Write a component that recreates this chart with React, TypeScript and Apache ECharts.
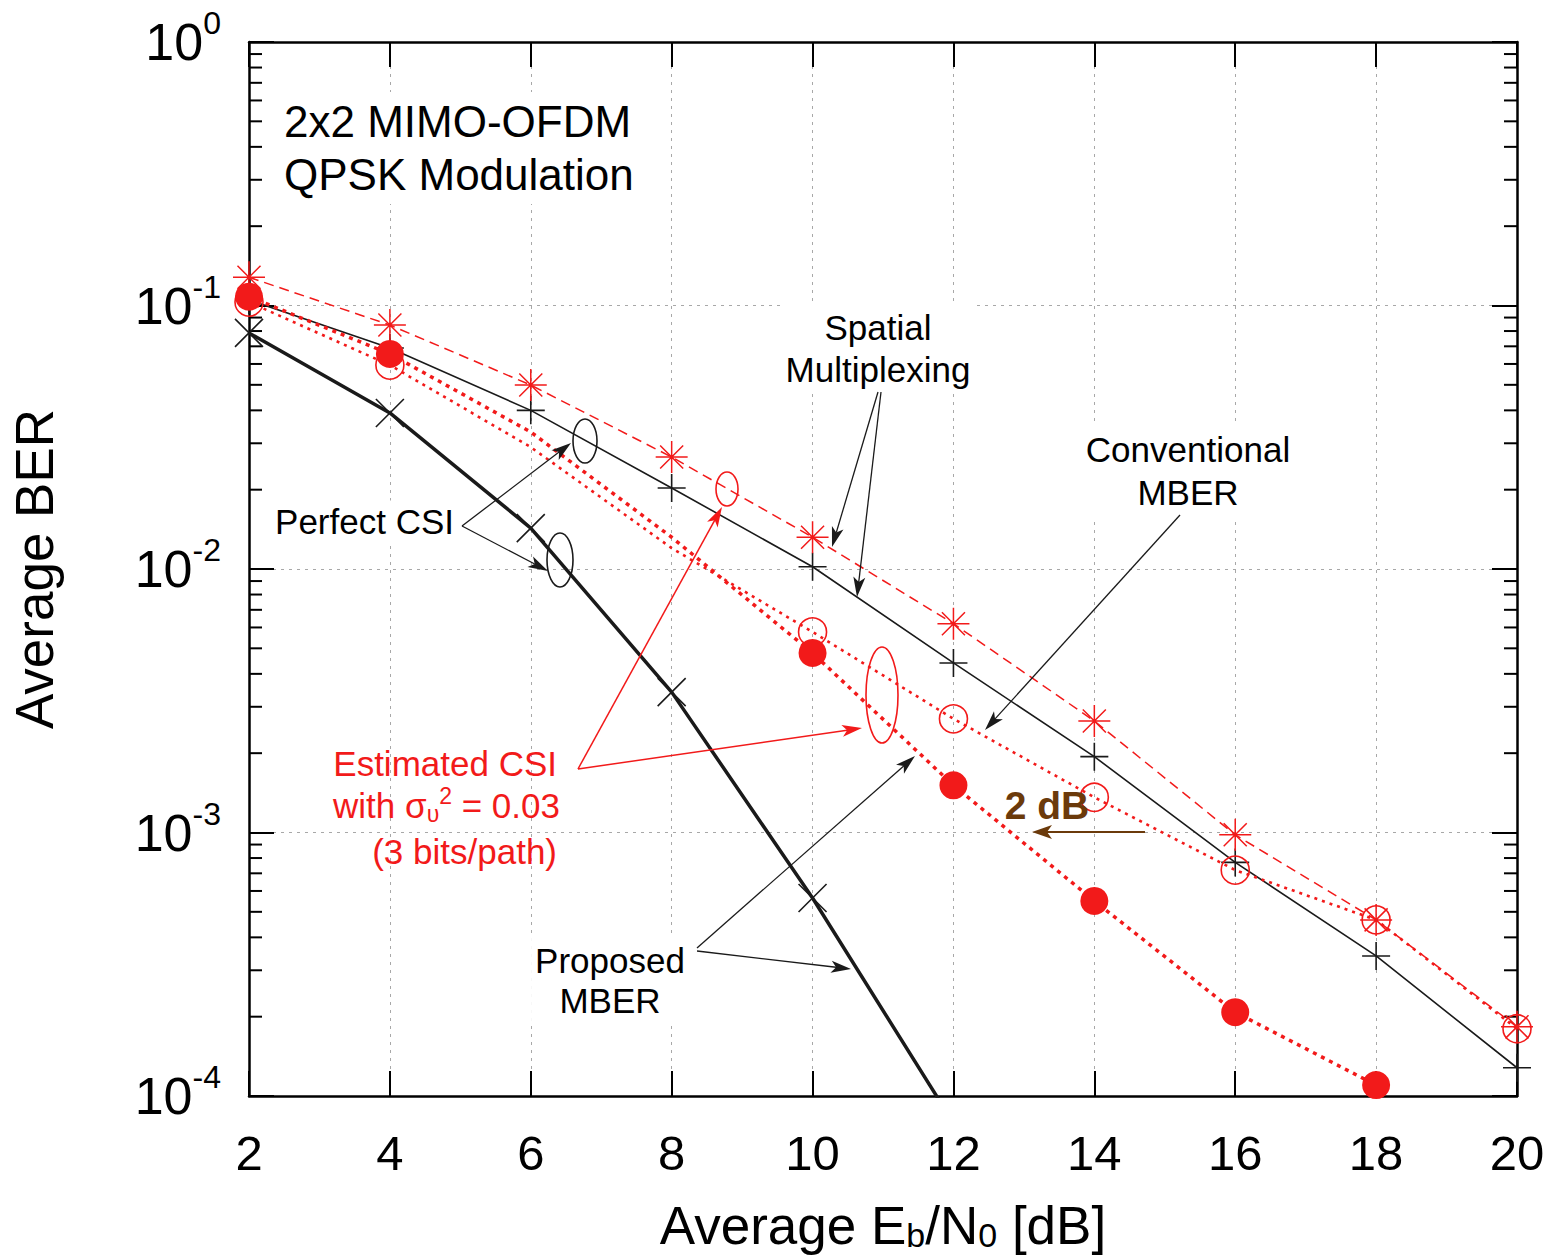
import React, { useEffect, useRef } from 'react';
import * as echarts from 'echarts';

// ---- data ----
const SNR = [2, 4, 6, 8, 10, 12, 14, 16, 18, 20];
const SM_PERFECT = [0.105, 0.069, 0.040, 0.0203, 0.0102, 0.0044, 0.00194, 0.00077, 0.00034, 0.000128];
const SM_ESTIMATED = [0.128, 0.0843, 0.0499, 0.0266, 0.0132, 0.0062, 0.00265, 0.00098, 0.000466, 0.000183];
const PROP_PERFECT_SNR = [2, 4, 6, 8, 10, 12];
const PROP_PERFECT = [0.0787, 0.0391, 0.0143, 0.00341, 0.000564, 0.000079];
const CONV_ESTIMATED = [0.103, 0.0594, 0.029, 0.012, 0.00577, 0.0027, 0.00136, 0.00072, 0.000466, 0.00018];
const PROP_EST_SNR = [2, 4, 6, 8, 10, 12, 14, 16, 18];
const PROP_ESTIMATED = [0.108, 0.0655, 0.0331, 0.0132, 0.0048, 0.00151, 0.00055, 0.000208, 0.00011];
// points drawn without a marker
const CONV_EST_NO_MARK = [6, 8];
const PROP_EST_NO_MARK = [6, 8];
const PROP_PERFECT_NO_MARK = [12];

const X_MIN = 2;
const X_MAX = 20;
const X_STEP = 2;
const Y_MIN = 1e-4;
const Y_MAX = 1;
const MINOR_DECADES = [1e-4, 1e-3, 1e-2, 1e-1];
const MINOR_STEPS = [2, 3, 4, 5, 6, 7, 8, 9];

const FONT = '"Liberation Sans", Arial, Helvetica, sans-serif';
const RED = '#f21a1a';
const BLACK = '#1a1a1a';
const BROWN = '#6b3a0b';

const PLUS = 'path://M0,-1L0,1M-1,0L1,0';
const CROSS = 'path://M-1,-1L1,1M-1,1L1,-1';
const STAR = 'path://M0,-1L0,1M-1,0L1,0M-0.72,-0.72L0.72,0.72M-0.72,0.72L0.72,-0.72';

function pts(xs: number[], ys: number[], noMark: number[] = []) {
  return ys.map((y, i) =>
    noMark.indexOf(xs[i]) >= 0 ? { value: [xs[i], y], symbol: 'none' } : [xs[i], y]
  );
}

function arrowEls(x1: number, y1: number, x2: number, y2: number, color: string, lw: number, hl = 20, hw = 6, z = 10) {
  const dx = x2 - x1, dy = y2 - y1;
  const L = Math.hypot(dx, dy);
  const ux = dx / L, uy = dy / L, px = -uy, py = ux;
  const bx = x2 - ux * hl, by = y2 - uy * hl;
  const nx = x2 - ux * hl * 0.75, ny = y2 - uy * hl * 0.75;
  return [
    { type: 'line', z, silent: true, shape: { x1, y1, x2: nx, y2: ny }, style: { stroke: color, lineWidth: lw } },
    {
      type: 'polygon', z, silent: true,
      shape: { points: [[x2, y2], [bx + px * hw, by + py * hw], [nx, ny], [bx - px * hw, by - py * hw]] },
      style: { fill: color },
    },
  ];
}

function ellipseEl(cx: number, cy: number, rx: number, ry: number, color: string) {
  return { type: 'ellipse', z: 10, silent: true, shape: { cx, cy, rx, ry }, style: { fill: 'none', stroke: color, lineWidth: 1.6 } };
}

function textEl(text: string, x: number, y: number, opts: any = {}) {
  return {
    type: 'text', z: opts.z ?? 1, silent: true, x, y,
    style: {
      text,
      fontFamily: FONT,
      fontSize: opts.fontSize ?? 35,
      fontWeight: opts.fontWeight ?? 'normal',
      fill: opts.fill ?? '#000',
      align: opts.align ?? 'center',
      verticalAlign: opts.verticalAlign ?? 'top',
      lineHeight: opts.lineHeight,
      backgroundColor: opts.bg === false ? undefined : '#fff',
      padding: opts.bg === false ? undefined : [3, 4],
      rich: opts.rich,
    },
  };
}

export default function App() {
  const ref = useRef<HTMLDivElement>(null);

  useEffect(() => {
    document.body.style.margin = '0';
    if (!ref.current) return;
    const chart = echarts.init(ref.current, undefined, { renderer: 'svg' });

    const minorData: number[][] = [];
    MINOR_DECADES.forEach((d) => MINOR_STEPS.forEach((m) => minorData.push([X_MIN, d * m])));

    const graphic: any[] = [
      textEl('2x2 MIMO-OFDM\nQPSK Modulation', 280, 92, { fontSize: 44, align: 'left', lineHeight: 53 }),
      textEl('Spatial\nMultiplexing', 878, 303, { lineHeight: 42 }),
      textEl('Conventional\nMBER', 1188, 425, { lineHeight: 43 }),
      textEl('Perfect CSI', 458, 521, { align: 'right', verticalAlign: 'middle' }),
      textEl('Proposed\nMBER', 610, 937, { lineHeight: 40 }),
      textEl('Estimated CSI', 557, 763, { align: 'right', verticalAlign: 'middle', fill: RED, bg: false }),
      textEl('with σ{sub|υ}{sup|2} = 0.03', 560, 805, {
        align: 'right', verticalAlign: 'middle', fill: RED, bg: false,
        rich: {
          sub: { fontSize: 23, fontFamily: FONT, fill: RED, padding: [18, 0, 0, 0], verticalAlign: 'middle' },
          sup: { fontSize: 23, fontFamily: FONT, fill: RED, padding: [0, 0, 18, 0], verticalAlign: 'middle' },
        },
      }),
      textEl('(3 bits/path)', 557, 851, { align: 'right', verticalAlign: 'middle', fill: RED, bg: false }),
      textEl('2 dB', 1047, 805, { align: 'center', verticalAlign: 'middle', fontSize: 39, fontWeight: 'bold', fill: BROWN, bg: false, z: 10 }),
      // black arrows
      ...arrowEls(878, 392, 832, 547, BLACK, 1.3),
      ...arrowEls(881, 392, 857, 597, BLACK, 1.3),
      ...arrowEls(1180, 515, 985, 730, BLACK, 1.3),
      ...arrowEls(462, 526, 571, 443, BLACK, 1.3),
      ...arrowEls(462, 526, 548, 571, BLACK, 1.3),
      ...arrowEls(697, 948, 915, 756, BLACK, 1.3),
      ...arrowEls(697, 951, 851, 969, BLACK, 1.3),
      // red arrows
      ...arrowEls(578, 769, 722, 507, RED, 1.5),
      ...arrowEls(578, 769, 862, 728, RED, 1.5),
      // brown arrow
      ...arrowEls(1145, 832, 1032, 832, BROWN, 2, 20, 7),
      // ellipses
      ellipseEl(585, 441, 12, 22, BLACK),
      ellipseEl(560, 560, 13, 27, BLACK),
      ellipseEl(727, 489, 11, 17, RED),
      ellipseEl(882, 695, 16, 48, RED),
    ];

    const tickStyle = { show: true, inside: true, length: 25, lineStyle: { color: '#000', width: 2 } };
    const lineAxis = { show: true, lineStyle: { color: '#000', width: 2.5 } };

    chart.setOption({
      animation: false,
      backgroundColor: '#fff',
      grid: { left: 247, right: 32, top: 42, bottom: 164, containLabel: false },
      xAxis: [
        {
          type: 'value', min: X_MIN, max: X_MAX, interval: X_STEP, position: 'bottom',
          axisLine: lineAxis, axisTick: tickStyle,
          axisLabel: { color: '#000', fontSize: 49, fontFamily: FONT, margin: 32 },
          splitLine: { show: true, lineStyle: { color: '#a8a8a8', width: 1, type: [3, 5] } },
          name: 'Average E{sub|b}/N{sub|0} [dB]', nameLocation: 'middle', nameGap: 102,
          nameTextStyle: {
            color: '#000', fontSize: 53, fontFamily: FONT,
            rich: { sub: { fontSize: 34, fontFamily: FONT, color: '#000', padding: [20, 0, 0, 0], verticalAlign: 'middle' } },
          },
        },
        {
          type: 'value', min: X_MIN, max: X_MAX, interval: X_STEP, position: 'top',
          axisLine: lineAxis, axisTick: tickStyle, axisLabel: { show: false }, splitLine: { show: false },
        },
      ],
      yAxis: [
        {
          type: 'log', logBase: 10, min: Y_MIN, max: Y_MAX, position: 'left',
          axisLine: lineAxis, axisTick: tickStyle,
          axisLabel: {
            color: '#000', margin: 28, fontFamily: FONT,
            formatter: (v: number) => `{b|10}{s|${Math.round(Math.log10(v))}}`,
            rich: {
              b: { fontSize: 52, lineHeight: 52, fontFamily: FONT, color: '#000', verticalAlign: 'middle' },
              s: { fontSize: 32, lineHeight: 32, fontFamily: FONT, color: '#000', padding: [0, 0, 38, 0], verticalAlign: 'middle' },
            },
          },
          splitLine: { show: true, lineStyle: { color: '#a8a8a8', width: 1, type: [3, 5] } },
          name: 'Average BER', nameLocation: 'middle', nameGap: 188, nameRotate: 90,
          nameTextStyle: { color: '#000', fontSize: 53, fontFamily: FONT },
        },
        {
          type: 'log', logBase: 10, min: Y_MIN, max: Y_MAX, position: 'right',
          axisLine: lineAxis, axisTick: tickStyle, axisLabel: { show: false }, splitLine: { show: false },
        },
      ],
      series: [
        {
          type: 'custom', name: 'minor ticks', silent: true, clip: false, z: 3,
          data: minorData,
          renderItem: (params: any, api: any) => {
            const v = api.value(1);
            const pl = api.coord([X_MIN, v]);
            const pr = api.coord([X_MAX, v]);
            return {
              type: 'group',
              children: [
                { type: 'line', shape: { x1: pl[0], y1: pl[1], x2: pl[0] + 13, y2: pl[1] }, style: { stroke: '#000', lineWidth: 2 } },
                { type: 'line', shape: { x1: pr[0] - 13, y1: pr[1], x2: pr[0], y2: pr[1] }, style: { stroke: '#000', lineWidth: 2 } },
              ],
            };
          },
        },
        {
          type: 'line', name: 'Spatial Multiplexing (Perfect CSI)', data: pts(SNR, SM_PERFECT), clip: true,
          symbol: PLUS, symbolSize: 28,
          itemStyle: { color: BLACK, borderColor: BLACK, borderWidth: 1.6 },
          lineStyle: { color: BLACK, width: 1.6, type: 'solid' },
          emphasis: { disabled: true }, z: 3,
        },
        {
          type: 'line', name: 'Proposed MBER (Perfect CSI)', data: pts(PROP_PERFECT_SNR, PROP_PERFECT, PROP_PERFECT_NO_MARK), clip: true,
          symbol: CROSS, symbolSize: 28,
          itemStyle: { color: BLACK, borderColor: BLACK, borderWidth: 1.6 },
          lineStyle: { color: BLACK, width: 3.5, type: 'solid' },
          emphasis: { disabled: true }, z: 3,
        },
        {
          type: 'line', name: 'Spatial Multiplexing (Estimated CSI)', data: pts(SNR, SM_ESTIMATED), clip: true,
          symbol: STAR, symbolSize: 32,
          itemStyle: { color: RED, borderColor: RED, borderWidth: 1.5 },
          lineStyle: { color: RED, width: 1.5, type: [10, 6] },
          emphasis: { disabled: true }, z: 4,
        },
        {
          type: 'line', name: 'Conventional MBER (Estimated CSI)', data: pts(SNR, CONV_ESTIMATED, CONV_EST_NO_MARK), clip: true,
          symbol: 'circle', symbolSize: 28,
          itemStyle: { color: 'rgba(0,0,0,0)', borderColor: RED, borderWidth: 1.6 },
          lineStyle: { color: RED, width: 2.6, type: [3, 5] },
          emphasis: { disabled: true }, z: 4,
        },
        {
          type: 'line', name: 'Proposed MBER (Estimated CSI)', data: pts(PROP_EST_SNR, PROP_ESTIMATED, PROP_EST_NO_MARK), clip: true,
          symbol: 'circle', symbolSize: 28,
          itemStyle: { color: RED, borderColor: RED, borderWidth: 0 },
          lineStyle: { color: RED, width: 3.5, type: [4, 5] },
          emphasis: { disabled: true }, z: 5,
        },
      ],
      graphic,
    });

    return () => chart.dispose();
  }, []);

  return <div ref={ref} style={{ width: 1549, height: 1260 }} />;
}
